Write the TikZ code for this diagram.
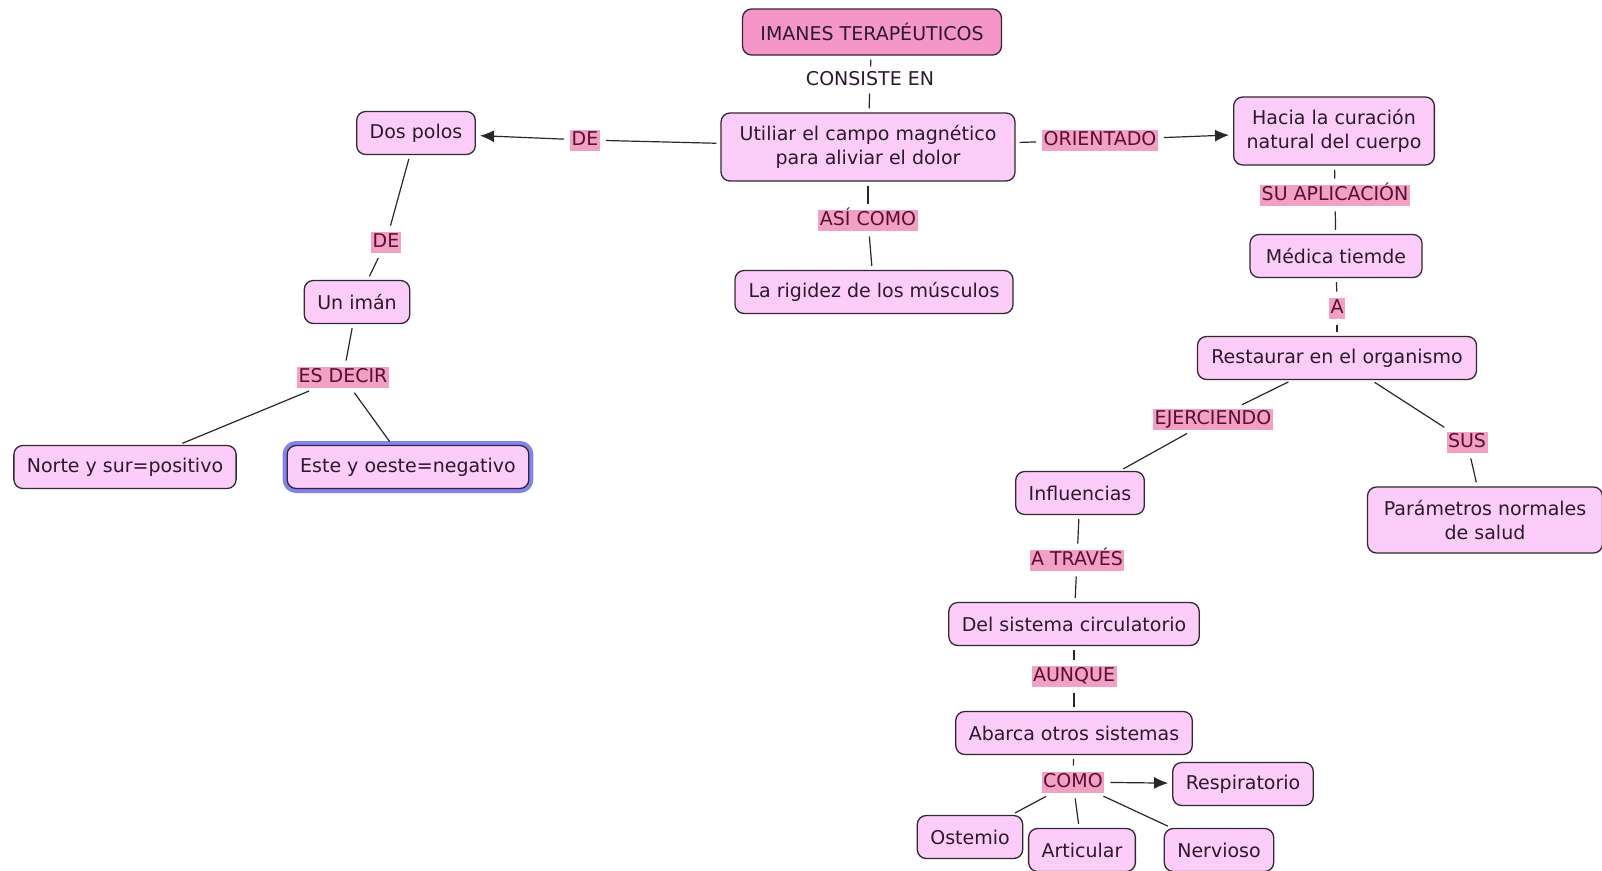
\documentclass[tikz,border=0pt]{standalone}
\usepackage{fontspec}
\setmainfont{DejaVu Sans}
\usetikzlibrary{arrows.meta}
\definecolor{nodefill}{RGB}{252,205,248}
\definecolor{titlefill}{RGB}{244,150,200}
\definecolor{linkfill}{RGB}{242,160,196}
\definecolor{bordercol}{RGB}{50,40,50}
\definecolor{textcol}{RGB}{45,25,45}
\definecolor{linktext}{RGB}{90,15,50}
\definecolor{glowcol}{RGB}{130,130,240}
\definecolor{linecol}{RGB}{40,40,40}
\tikzset{
  concept/.style={rectangle, rounded corners=9pt, draw=bordercol, line width=1.3pt, fill=nodefill,
    text=textcol, font=\fontsize{19}{23.5}\selectfont, inner xsep=13pt, inner ysep=4pt,
    minimum height=43pt, align=center},
  twoline/.style={concept, minimum height=68pt},
  titlebox/.style={concept, fill=titlefill},
  linkbox/.style={rectangle, fill=linkfill, text=linktext, font=\fontsize{19}{23}\selectfont,
    inner xsep=1.5pt, inner ysep=1.5pt, text height=14.5pt, text depth=3.5pt, outer sep=2pt},
  plainlink/.style={linkbox, fill=none, text=textcol, outer sep=-1pt},
  conn/.style={draw=linecol, line width=1.2pt, shorten <=4pt, shorten >=4pt},
  arr/.style={conn, -{Latex[length=14pt,width=12pt]}},
  glow/.style={preaction={draw=glowcol, line width=9pt}}
}
\begin{document}
\begin{tikzpicture}[x=1pt,y=-1pt]
\useasboundingbox[fill=white] (0,0) rectangle (1602,870);
% nodes
\node[titlebox, minimum width=259pt, minimum height=46pt] (title) at (872,32) {IMANES TERAPÉUTICOS};
\node[plainlink] (consiste) at (870,80) {CONSISTE EN};
\node[twoline, minimum width=294pt] (utiliar) at (868,147) {Utiliar el campo magnético\\para aliviar el dolor};
\node[linkbox] (asi) at (868,220) {ASÍ COMO};
\node[concept, minimum width=278pt] (rigidez) at (874,292) {La rigidez de los músculos};
\node[linkbox] (de1) at (585,140) {DE};
\node[concept] (dospolos) at (416,133) {Dos polos};
\node[linkbox] (de2) at (386,242) {DE};
\node[concept] (iman) at (357,302) {Un imán};
\node[linkbox] (esdecir) at (343,377) {ES DECIR};
\node[concept] (norte) at (125,467) {Norte y sur=positivo};
\node[concept, glow, minimum width=236pt] (este) at (408,467) {Este y oeste=negativo};
\node[linkbox] (orientado) at (1100,140) {ORIENTADO};
\node[twoline, minimum width=200pt] (hacia) at (1334,131) {Hacia la curación\\natural del cuerpo};
\node[linkbox] (suapl) at (1335,195) {SU APLICACIÓN};
\node[concept, minimum width=172pt] (medica) at (1336,256) {Médica tiemde};
\node[linkbox] (a) at (1337,308) {A};
\node[concept, minimum width=279pt] (restaurar) at (1337,358) {Restaurar en el organismo};
\node[linkbox] (ejerciendo) at (1213,419) {EJERCIENDO};
\node[linkbox] (sus) at (1467,442) {SUS\ };
\node[twoline, minimum width=235pt, minimum height=66pt] (parametros) at (1485,520) {Parámetros normales\\de salud};
\node[concept] (influencias) at (1080,493) {Influencias};
\node[linkbox] (atraves) at (1077,560) {A TRAVÉS};
\node[concept] (delsistema) at (1074,624) {Del sistema circulatorio};
\node[linkbox] (aunque) at (1074,676) {AUNQUE};
\node[concept] (abarca) at (1074,733) {Abarca otros sistemas};
\node[linkbox] (como) at (1073,782) {COMO};
\node[concept] (respiratorio) at (1243,784) {Respiratorio};
\node[concept] (ostemio) at (970,837) {Ostemio};
\node[concept] (articular) at (1082,850) {Articular};
\node[concept] (nervioso) at (1219,850) {Nervioso};
% connectors
\draw[conn] (title) -- (consiste);
\draw[conn] (consiste) -- (utiliar);
\draw[conn] (utiliar) -- (asi);
\draw[conn] (asi) -- (rigidez);
\draw[conn] (utiliar) -- (de1);
\draw[arr] (de1) -- (dospolos);
\draw[conn] (dospolos) -- (de2);
\draw[conn] (de2) -- (iman);
\draw[conn] (iman) -- (esdecir);
\draw[conn] (esdecir) -- (norte);
\draw[conn] (esdecir) -- (este);
\draw[conn] (utiliar) -- (orientado);
\draw[arr] (orientado) -- (hacia);
\draw[conn] (hacia) -- (suapl);
\draw[conn] (suapl) -- (medica);
\draw[conn] (medica) -- (a);
\draw[conn] (a) -- (restaurar);
\draw[conn] (restaurar) -- (ejerciendo);
\draw[conn] (ejerciendo) -- (influencias);
\draw[conn] (restaurar) -- (sus);
\draw[conn] (sus) -- (parametros);
\draw[conn] (influencias) -- (atraves);
\draw[conn] (atraves) -- (delsistema);
\draw[conn] (delsistema) -- (aunque);
\draw[conn] (aunque) -- (abarca);
\draw[conn] (abarca) -- (como);
\draw[arr] (como) -- (respiratorio);
\draw[conn] (como) -- (ostemio);
\draw[conn] (como) -- (articular);
\draw[conn] (como) -- (nervioso);
\end{tikzpicture}
\end{document}
